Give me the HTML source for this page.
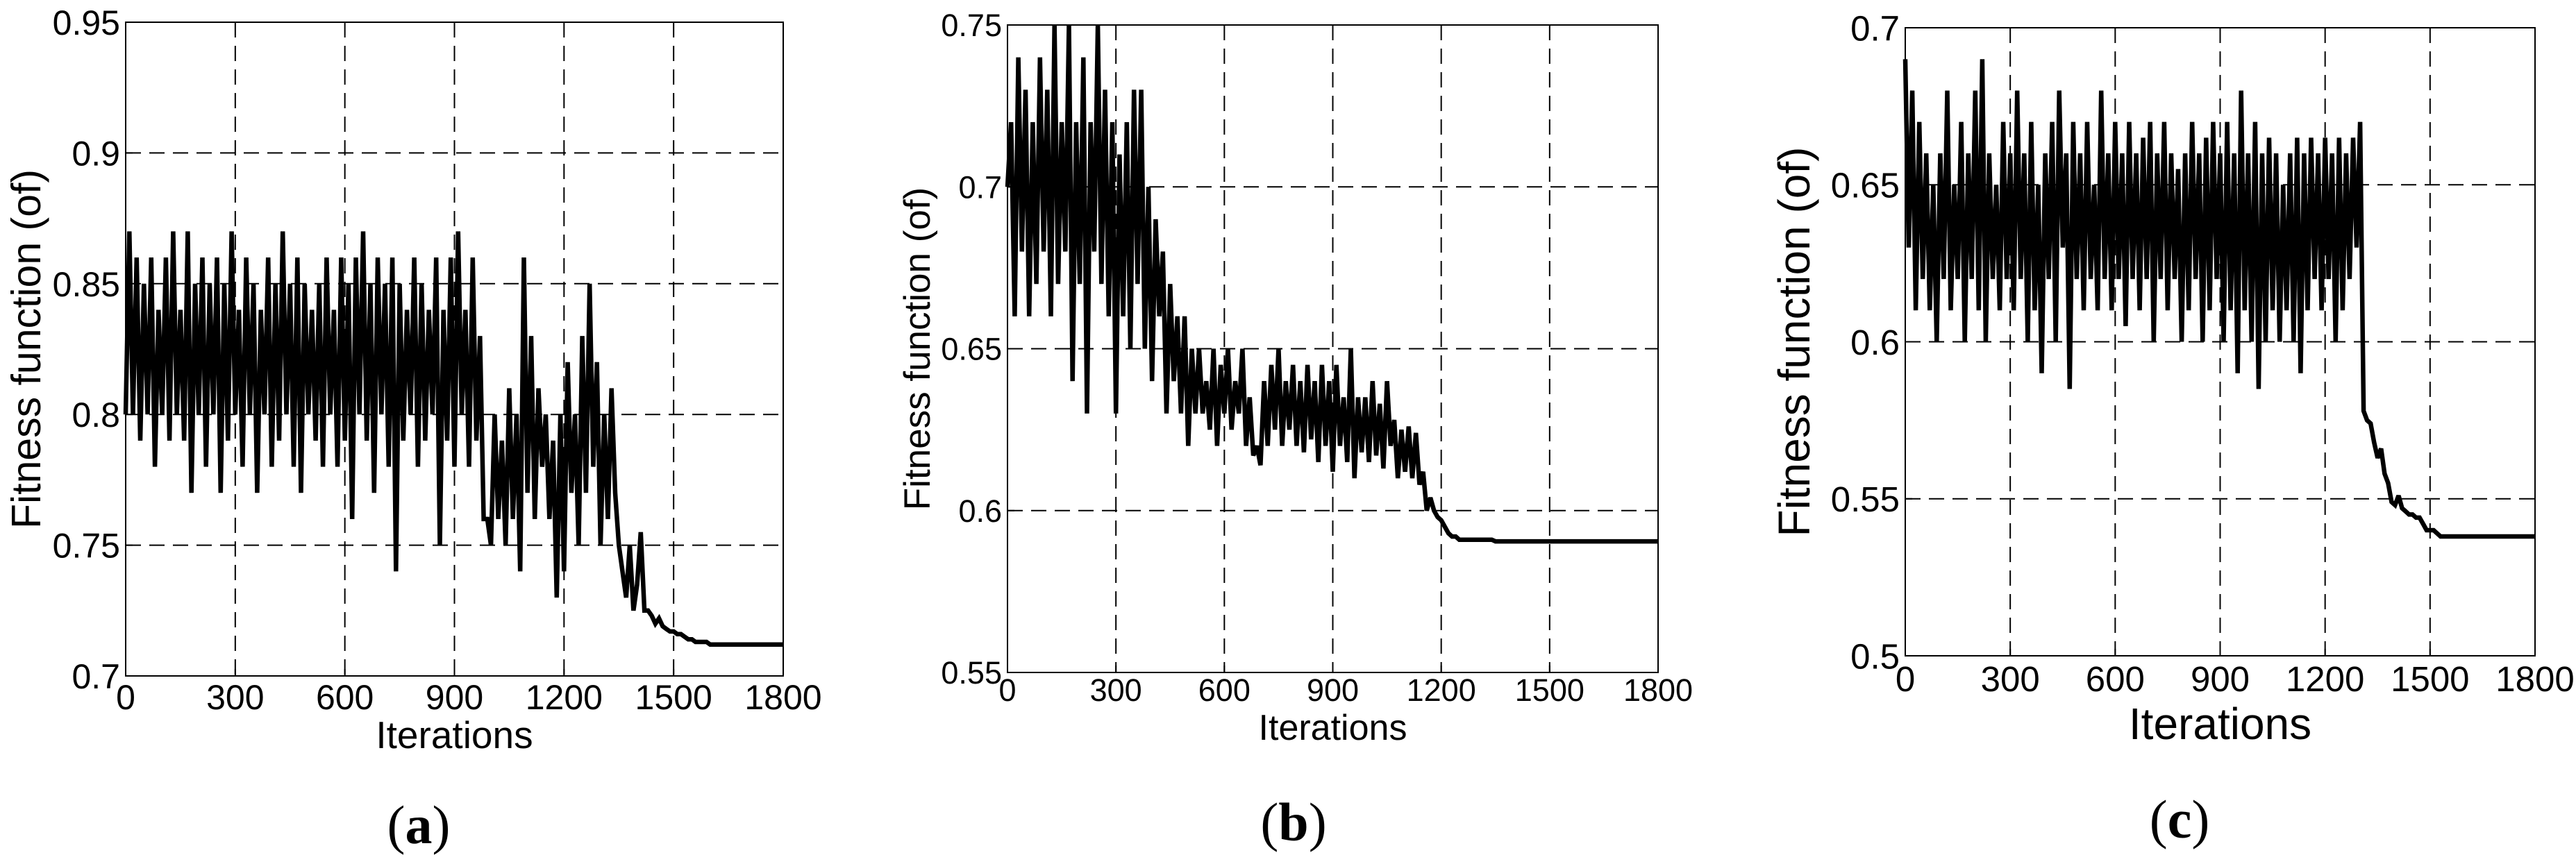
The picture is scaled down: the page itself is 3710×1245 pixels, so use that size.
<!DOCTYPE html>
<html><head><meta charset="utf-8"><style>
html,body{margin:0;padding:0;background:#fff;}
svg{display:block;}
text{font-family:"Liberation Sans",Arial,sans-serif;fill:#000;}
.cap{font-family:"Liberation Serif","Times New Roman",serif;}
</style></head><body>
<svg id="fig" width="3710" height="1245" viewBox="0 0 3710 1245" xmlns="http://www.w3.org/2000/svg"></svg>
<script>
const xTicks=[0,300,600,900,1200,1500,1800];
const iterStep=10;
const fitA=[
0.80,0.87,0.80,0.86,0.79,0.85,0.80,0.86,0.78,0.84,
0.80,0.86,0.79,0.87,0.80,0.84,0.79,0.87,0.77,0.85,
0.80,0.86,0.78,0.85,0.80,0.86,0.77,0.85,0.79,0.87,
0.80,0.84,0.78,0.86,0.80,0.85,0.77,0.84,0.80,0.86,
0.78,0.85,0.79,0.87,0.80,0.85,0.78,0.86,0.77,0.85,
0.80,0.84,0.79,0.85,0.78,0.86,0.80,0.84,0.78,0.86,
0.79,0.85,0.76,0.86,0.80,0.87,0.79,0.85,0.77,0.86,
0.80,0.85,0.78,0.86,0.74,0.85,0.79,0.84,0.80,0.86,
0.78,0.85,0.79,0.84,0.80,0.86,0.75,0.84,0.79,0.86,
0.78,0.87,0.80,0.84,0.78,0.86,0.79,0.83,0.76,0.76,
0.75,0.80,0.76,0.79,0.75,0.81,0.76,0.80,0.74,0.86,
0.77,0.83,0.76,0.81,0.78,0.80,0.76,0.79,0.73,0.80,
0.74,0.82,0.77,0.80,0.75,0.83,0.77,0.85,0.78,0.82,
0.75,0.80,0.76,0.81,0.77,0.75,0.74,0.73,0.75,0.725,
0.735,0.755,0.725,0.725,0.723,0.720,0.722,0.719,0.718,0.717,
0.717,0.716,0.716,0.715,0.714,0.714,0.713,0.713,0.713,0.713,
0.712,0.712,0.712,0.712,0.712,0.712,0.712,0.712,0.712,0.712,
0.712,0.712,0.712,0.712,0.712,0.712,0.712,0.712,0.712,0.712,
0.712];
const fitB=[
0.70,0.72,0.66,0.74,0.68,0.73,0.66,0.72,0.67,0.74,
0.68,0.73,0.66,0.75,0.67,0.72,0.68,0.75,0.64,0.72,
0.67,0.74,0.63,0.72,0.68,0.75,0.67,0.73,0.66,0.72,
0.63,0.71,0.66,0.72,0.65,0.73,0.67,0.73,0.65,0.70,
0.64,0.69,0.66,0.68,0.63,0.67,0.64,0.66,0.63,0.66,
0.62,0.65,0.63,0.65,0.63,0.64,0.625,0.65,0.62,0.645,
0.63,0.65,0.625,0.64,0.63,0.65,0.62,0.635,0.617,0.62,
0.614,0.64,0.62,0.645,0.625,0.65,0.62,0.64,0.625,0.645,
0.62,0.64,0.618,0.645,0.622,0.64,0.615,0.645,0.62,0.64,
0.612,0.645,0.62,0.635,0.615,0.65,0.61,0.635,0.618,0.635,
0.615,0.64,0.617,0.633,0.613,0.64,0.62,0.628,0.61,0.625,
0.612,0.626,0.61,0.624,0.608,0.612,0.60,0.604,0.600,0.598,
0.597,0.595,0.593,0.592,0.592,0.591,0.591,0.591,0.591,0.591,
0.591,0.591,0.591,0.591,0.591,0.5905,0.5905,0.5905,0.5905,0.5905,
0.5905,0.5905,0.5905,0.5905,0.5905,0.5905,0.5905,0.5905,0.5905,0.5905,
0.5905,0.5905,0.5905,0.5905,0.5905,0.5905,0.5905,0.5905,0.5905,0.5905,
0.5905,0.5905,0.5905,0.5905,0.5905,0.5905,0.5905,0.5905,0.5905,0.5905,
0.5905,0.5905,0.5905,0.5905,0.5905,0.5905,0.5905,0.5905,0.5905,0.5905,
0.5905];
const fitC=[
0.69,0.63,0.68,0.61,0.67,0.62,0.66,0.61,0.65,0.60,
0.66,0.62,0.68,0.61,0.65,0.62,0.67,0.60,0.66,0.62,
0.68,0.61,0.69,0.60,0.66,0.62,0.65,0.61,0.67,0.62,
0.66,0.61,0.68,0.62,0.66,0.60,0.67,0.61,0.65,0.59,
0.66,0.62,0.67,0.60,0.68,0.63,0.66,0.585,0.67,0.62,
0.66,0.61,0.67,0.62,0.65,0.61,0.68,0.62,0.66,0.61,
0.67,0.62,0.66,0.605,0.67,0.62,0.66,0.61,0.665,0.62,
0.67,0.60,0.66,0.62,0.67,0.61,0.66,0.62,0.655,0.60,
0.66,0.61,0.67,0.62,0.66,0.60,0.665,0.61,0.67,0.62,
0.66,0.60,0.67,0.61,0.66,0.59,0.68,0.61,0.66,0.60,
0.67,0.585,0.66,0.60,0.665,0.61,0.66,0.60,0.65,0.61,
0.66,0.60,0.665,0.59,0.66,0.61,0.665,0.62,0.66,0.61,
0.665,0.62,0.66,0.60,0.665,0.61,0.66,0.62,0.665,0.63,
0.67,0.578,0.575,0.574,0.568,0.563,0.566,0.558,0.555,0.549,
0.548,0.551,0.547,0.546,0.545,0.545,0.544,0.544,0.542,0.540,
0.540,0.540,0.539,0.538,0.538,0.538,0.538,0.538,0.538,0.538,
0.538,0.538,0.538,0.538,0.538,0.538,0.538,0.538,0.538,0.538,
0.538,0.538,0.538,0.538,0.538,0.538,0.538,0.538,0.538,0.538,
0.538];
const yTicksA=[0.7,0.75,0.8,0.85,0.9,0.95];
const yTicksB=[0.55,0.6,0.65,0.7,0.75];
const yTicksC=[0.5,0.55,0.6,0.65,0.7];

const NS="http://www.w3.org/2000/svg";
const svg=document.getElementById('fig');
function mk(tag,attrs,parent){const e=document.createElementNS(NS,tag);for(const k in attrs)e.setAttribute(k,attrs[k]);(parent||svg).appendChild(e);return e;}
function fmt(v){return String(+v.toFixed(2));}

const panels=[
 {id:'a',L:181,R:1128,T:32,B:974,vals:fitA,yt:yTicksA,tf:50,xtY:1022,ylX:58,ylF:59,xlY:1078,xlF:55,capX:603,capY:1215,capF:78},
 {id:'b',L:1451,R:2388,T:36,B:969,vals:fitB,yt:yTicksB,tf:45,xtY:1010,ylX:1339,ylF:53,xlY:1066,xlF:52,capX:1863,capY:1211,capF:78},
 {id:'c',L:2744,R:3651,T:40,B:945,vals:fitC,yt:yTicksC,tf:51,xtY:996,ylX:2606,ylF:64,xlY:1065,xlF:64,capX:3139,capY:1207,capF:78}
];
panels.forEach(p=>{
  const g=mk('g',{});
  
  
  const y0=p.yt[0],y1=p.yt[p.yt.length-1];
  const xs=v=>p.L+(v-0)/(1800-0)*(p.R-p.L);
  const ys=v=>p.B-(v-y0)/(y1-y0)*(p.B-p.T);
  xTicks.forEach(t=>{ if(t>0&&t<1800){const l=mk('line',{x1:xs(t),x2:xs(t),y1:p.T,y2:p.B,stroke:'#000','stroke-width':2,'stroke-dasharray':'22,12'},g);
    }});
  p.yt.forEach(t=>{ if(t>y0&&t<y1){const l=mk('line',{x1:p.L,x2:p.R,y1:ys(t),y2:ys(t),stroke:'#000','stroke-width':2,'stroke-dasharray':'22,12'},g);
    }});
  const pts=p.vals.map((v,i)=>xs(i*iterStep).toFixed(1)+','+ys(v).toFixed(1)).join(' ');
  const pl=mk('polyline',{points:pts,fill:'none',stroke:'#000','stroke-width':6.5,'stroke-linejoin':'miter','stroke-miterlimit':3},g);
  
  
  const fr=mk('rect',{x:p.L,y:p.T,width:p.R-p.L,height:p.B-p.T,fill:'none',stroke:'#000','stroke-width':2},g);
  
  
  xTicks.forEach(t=>{
    const tx=mk('text',{x:xs(t),y:p.xtY,'font-size':p.tf,'text-anchor':'middle'},g);tx.textContent=t;
    
    mk('line',{x1:xs(t),x2:xs(t),y1:p.B,y2:p.B-10,stroke:'#000','stroke-width':2},g);
  });
  p.yt.forEach(t=>{
    const tx=mk('text',{x:p.L-8,y:ys(t)+p.tf*0.36,'font-size':p.tf,'text-anchor':'end'},g);tx.textContent=fmt(t);
    
    mk('line',{x1:p.L,x2:p.L+10,y1:ys(t),y2:ys(t),stroke:'#000','stroke-width':2},g);
  });
  const cy=(p.T+p.B)/2;
  const yl=mk('text',{x:p.ylX,y:cy,'font-size':p.ylF,'text-anchor':'middle',transform:'rotate(-90 '+p.ylX+' '+cy+')'},g);
  yl.textContent='Fitness function (of)';
  
  const xl=mk('text',{x:(p.L+p.R)/2,y:p.xlY,'font-size':p.xlF,'text-anchor':'middle'},g);
  xl.textContent='Iterations';
  
  const cap=mk('text',{x:p.capX,y:p.capY,'font-size':p.capF,'text-anchor':'middle',class:'cap'},g);
  cap.innerHTML='(<tspan font-weight="bold">'+p.id+'</tspan>)';
  
});
</script>
</body></html>
